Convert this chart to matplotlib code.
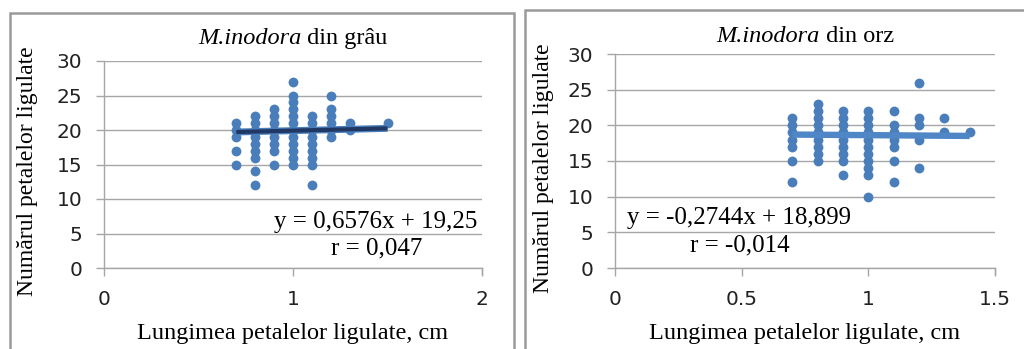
import numpy as np
import matplotlib
matplotlib.use("Agg")
import matplotlib.pyplot as plt
from matplotlib.patches import Rectangle

W, H = 1024, 349

# --- data ---
# M. inodora din grau: x = ligulate petal length (cm), y = number of ligulate petals
grau_x = [0.7] * 5 + [0.8] * 9 + [0.9] * 8 + [1.0] * 12 + [1.1] * 9 + [1.2] * 6 + [1.3] * 2 + [1.5]
grau_y = ([21, 20, 19, 17, 15]
          + [22, 21, 20, 19, 18, 17, 16, 14, 12]
          + [23, 22, 21, 20, 19, 18, 17, 15]
          + [27, 25, 24, 23, 22, 21, 20, 19, 18, 17, 16, 15]
          + [22, 21, 20, 19, 18, 17, 16, 15, 12]
          + [25, 23, 22, 21, 20, 19]
          + [21, 20]
          + [21])
grau_fit = (0.6576, 19.25)
grau_xrange = (0.7, 1.5)

# M. inodora din orz
orz_x = [0.7] * 7 + [0.8] * 9 + [0.9] * 9 + [1.0] * 11 + [1.1] * 7 + [1.2] * 5 + [1.3] * 2 + [1.4]
orz_y = ([21, 20, 19, 18, 17, 15, 12]
         + [23, 22, 21, 20, 19, 18, 17, 16, 15]
         + [22, 21, 20, 19, 18, 17, 16, 15, 13]
         + [22, 21, 20, 19, 18, 17, 16, 15, 14, 13, 10]
         + [22, 20, 19, 18, 17, 15, 12]
         + [26, 21, 20, 18, 14]
         + [21, 19]
         + [19])
orz_fit = (-0.2744, 18.899)
orz_xrange = (0.7, 1.4)

yticks = [0, 5, 10, 15, 20, 25, 30]
grau_xticks = [0, 1, 2]
grau_xlabels = ["0", "1", "2"]
orz_xticks = [0, 0.5, 1, 1.5]
orz_xlabels = ["0", "0.5", "1", "1.5"]

DOT = "#4a7ebb"
GRID = "#a6a6a6"
SERIF = "Liberation Serif"


def fx(x):
    return x / W


def fy(y):
    return 1 - y / H


fig = plt.figure(figsize=(W / 100, H / 100), dpi=100)

# panel frames
for (x0, y0, x1) in [(10, 12.5, 514), (525, 10, 1040)]:
    fig.add_artist(Rectangle((fx(x0), fy(360)), fx(x1 - x0), (360 - y0) / H,
                             fill=False, ec="#9a9a9a", lw=1.8, transform=fig.transFigure))


def panel(rect, xs, ys, fit, xr, xmax, xticks, xlabels, title_rest, eq, eq_pos, r_txt, r_pos, ha,
          ylab_x, trend_style):
    l, t, r, b = rect
    ax = fig.add_axes([fx(l), fy(b), fx(r - l), (b - t) / H])
    ax.set_xlim(0, xmax)
    ax.set_ylim(0, 30)
    ax.set_yticks(yticks)
    ax.set_xticks(xticks)
    ax.set_xticklabels(xlabels)
    ax.grid(axis="y", color=GRID, lw=1.0)
    ax.set_axisbelow(True)
    for s in ["top", "right"]:
        ax.spines[s].set_visible(False)
    for s in ["left", "bottom"]:
        ax.spines[s].set_color(GRID)
        ax.spines[s].set_linewidth(1.0)
    ax.tick_params(axis="both", direction="out", length=5.5, width=1.0, color=GRID,
                   labelsize=14.5, labelcolor="#222222")
    ax.tick_params(axis="y", pad=10)
    ax.tick_params(axis="x", pad=10)
    # right boundary tick on x axis
    ax.plot([xmax, xmax], [0, -0.9], color=GRID, lw=1.0, clip_on=False)

    ax.scatter(xs, ys, s=50, color=DOT, zorder=3, linewidths=0)
    lx = np.array(xr)
    ly = fit[0] * lx + fit[1]
    for c, w in trend_style:
        ax.plot(lx, ly, color=c, lw=w, solid_capstyle="butt", zorder=4)

    # title: italic species name followed by upright rest
    ty = fy(t - (17 if t > 58 else 12))
    t1 = fig.text(0, ty, "M.inodora", ha="left", va="baseline", fontsize=17.5,
                  family=SERIF, style="italic")
    t2 = fig.text(0, ty, " " + title_rest, ha="left", va="baseline", fontsize=17.5, family=SERIF)
    rend = fig.canvas.get_renderer()
    w1 = t1.get_window_extent(rend).width
    w2 = t2.get_window_extent(rend).width
    x_start = (l + r) / 2 - (w1 + w2) / 2
    t1.set_x(fx(x_start))
    t2.set_x(fx(x_start + w1))

    fig.text(fx(ylab_x), fy((t + b) / 2 + 7), "Numărul petalelor ligulate", rotation=90,
             ha="center", va="center", fontsize=17, family=SERIF)
    fig.text(fx((l + r) / 2), fy(339), "Lungimea petalelor ligulate, cm",
             ha="center", va="baseline", fontsize=17.5, family=SERIF)
    fig.text(fx(eq_pos[0]), fy(eq_pos[1]), eq, ha=ha, va="baseline", fontsize=18, family=SERIF)
    fig.text(fx(r_pos[0]), fy(r_pos[1]), r_txt, ha=ha, va="baseline", fontsize=18, family=SERIF)
    return ax


panel((104, 61, 482, 268), grau_x, grau_y, grau_fit, grau_xrange, 2, grau_xticks, grau_xlabels,
      "din grâu", "y = 0,6576x + 19,25", (477, 228), "r = 0,047", (422, 254),
      "right", 28, [("#4a7ebb", 5.0), ("#1f3864", 3.0)])
panel((615, 54, 995, 268), orz_x, orz_y, orz_fit, orz_xrange, 1.5, orz_xticks, orz_xlabels,
      "din orz", "y = -0,2744x + 18,899", (627, 224), "r = -0,014", (690, 251),
      "left", 544, [("#4f86c6", 4.6)])

fig.savefig("out.png", dpi=100)
